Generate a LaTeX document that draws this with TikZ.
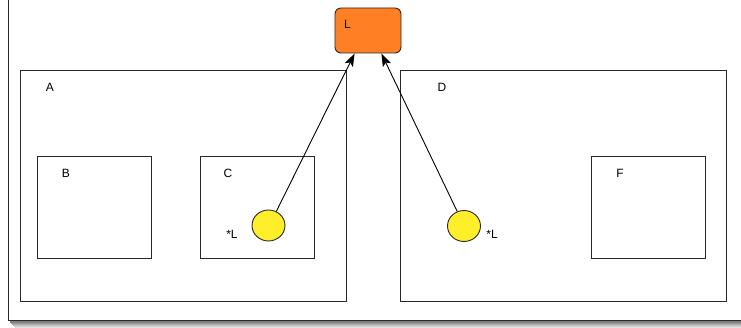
\documentclass[tikz,border=0pt]{standalone}
\usepackage{fontspec}
\setmainfont{Liberation Sans}
\usetikzlibrary{arrows.meta,calc,shapes.geometric}
\definecolor{lorange}{RGB}{255,127,36}
\definecolor{lyellow}{RGB}{255,238,42}
\definecolor{edge}{RGB}{40,40,40}
\tikzset{
  box/.style={draw=edge,line width=0.9pt,fill=white,inner sep=0pt},
  lbl/.style={inner sep=0pt,font=\fontsize{12}{14}\selectfont},
  ball/.style={draw=edge,line width=0.9pt,fill=lyellow,ellipse,minimum width=33pt,minimum height=31pt,inner sep=0pt},
  link/.style={draw=black,line width=0.9pt,-{Stealth[length=13pt,width=9pt,inset=3pt]}}
}
\begin{document}
\begin{tikzpicture}[x=1pt,y=-1pt]
\useasboundingbox (0,0) rectangle (741,328);
\clip (0,0) rectangle (741,328);
% outer frame with shadow
\foreach \o/\c in {7/12,6/18,5/25,4/32,3/40,2/50}{
  \fill[black!\c!white] (8+\o,-20+\o) rectangle (760+\o,321+\o);
}
\draw[fill=white,draw=edge,line width=1pt] (8,-20) rectangle (760,321);
% boxes
\node[box,minimum width=326pt,minimum height=231pt] (A) at (183,185.5) {};
\node[box,minimum width=114pt,minimum height=102pt] (B) at (94,207) {};
\node[box,minimum width=114pt,minimum height=102pt] (C) at (257,207) {};
\node[box,minimum width=326pt,minimum height=231pt] (D) at (563,185.5) {};
\node[box,minimum width=114pt,minimum height=102pt] (F) at (648,207) {};
\node[box,fill=lorange,rounded corners=6pt,minimum width=66pt,minimum height=45pt] (L) at (368,30.5) {};
% labels
\node[lbl] (tL) at (347.5,24) {L};
\node[lbl] (tA) at (50,87) {A};
\node[lbl] (tB) at (66,173) {B};
\node[lbl] (tC) at (228,173) {C};
\node[lbl] (tD) at (442,87) {D};
\node[lbl] (tF) at (620,173) {F};
% balls
\node[ball] (b1) at (268.5,225.5) {};
\node[ball] (b2) at (464,226) {};
\node[lbl] (s1) at (232,234) {*L};
\node[lbl] (s2) at (492,234) {*L};
% connectors
\coordinate (L1) at ($(L.south west)!0.30!(L.south east)$);
\coordinate (L2) at ($(L.south west)!0.70!(L.south east)$);
\draw[link] (b1.61) -- (L1);
\draw[link] (b2.115) -- (L2);
\end{tikzpicture}
\end{document}
